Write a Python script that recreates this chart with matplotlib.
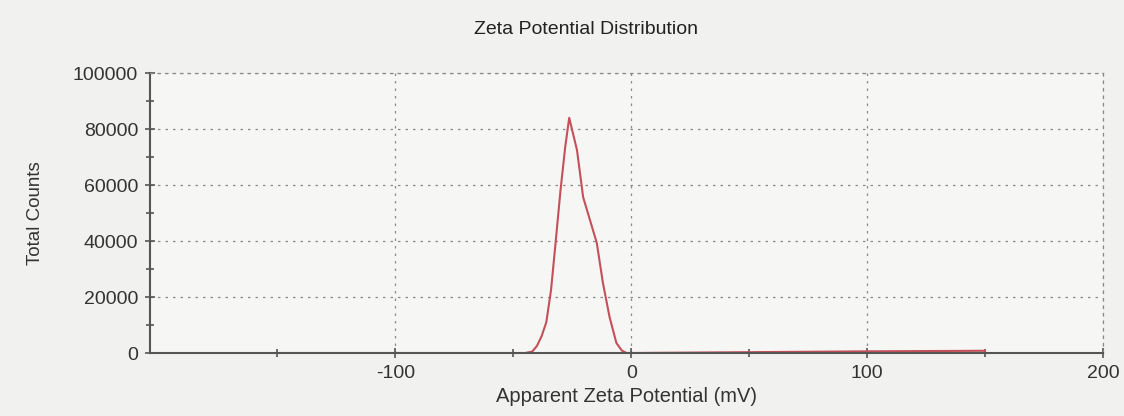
import matplotlib
matplotlib.use("Agg")
import matplotlib.pyplot as plt
from matplotlib.ticker import MultipleLocator, FixedLocator

# Data
zeta_mv = [-150, -100, -60, -45, -42, -40, -38, -36, -34, -32, -30, -28, -26.3,
           -23, -20.4, -17.5, -14.6, -12, -9.2, -6.3, -4, -2, 0, 50, 100, 150]
counts = [0, 0, 0, 0, 500, 2500, 6000, 11000, 22500, 40000, 58000, 73500, 84000,
          72500, 55700, 47500, 39300, 25000, 12900, 3600, 900, 0, 0, 300, 600, 800]

x_ticks = [-100, 0, 100, 200]
y_ticks = [0, 20000, 40000, 60000, 80000, 100000]

title = "Zeta Potential Distribution"
x_label = "Apparent Zeta Potential (mV)"
y_label = "Total Counts"

plt.rcParams['font.family'] = ['Liberation Sans', 'DejaVu Sans']

fig = plt.figure(figsize=(11.24, 4.16), dpi=100, facecolor='#f1f1ef')
ax = fig.add_axes([0.1335, 0.1514, 0.8478, 0.6731])
ax.set_facecolor('#f6f6f4')

ax.plot(zeta_mv, counts, color='#c4505a', linewidth=1.5)

ax.set_xlim(-204, 200)
ax.set_ylim(0, 100000)
ax.xaxis.set_major_locator(FixedLocator(x_ticks))
ax.xaxis.set_minor_locator(FixedLocator([-150, -50, 50, 150]))
ax.yaxis.set_major_locator(FixedLocator(y_ticks))
ax.yaxis.set_minor_locator(MultipleLocator(10000))
ax.set_xticklabels([str(v) for v in x_ticks])
ax.set_yticklabels([str(v) for v in y_ticks])

ax.grid(True, which='major', linestyle=(0, (2, 4)), color='#8a8a8a', linewidth=0.9)
ax.tick_params(which='both', direction='inout', color='#555555', labelcolor='#333333')
ax.tick_params(which='major', length=7, width=1.2, labelsize=14, pad=5)
ax.tick_params(which='minor', length=6, width=1.2)

for s in ['left', 'bottom']:
    ax.spines[s].set_color('#555555')
    ax.spines[s].set_linewidth(1.5)
for s in ['top', 'right']:
    ax.spines[s].set_color('#8a8a8a')
    ax.spines[s].set_linestyle((0, (2, 4)))
    ax.spines[s].set_linewidth(0.9)

ax.set_xlabel(x_label, fontsize=14.5, color='#333333', labelpad=4)
ax.set_ylabel(y_label, fontsize=13.5, color='#333333', labelpad=21)
fig.text(0.521, 0.928, title, ha='center', va='center', fontsize=14, color='#222222')

fig.savefig("out.png", dpi=100, facecolor=fig.get_facecolor())
